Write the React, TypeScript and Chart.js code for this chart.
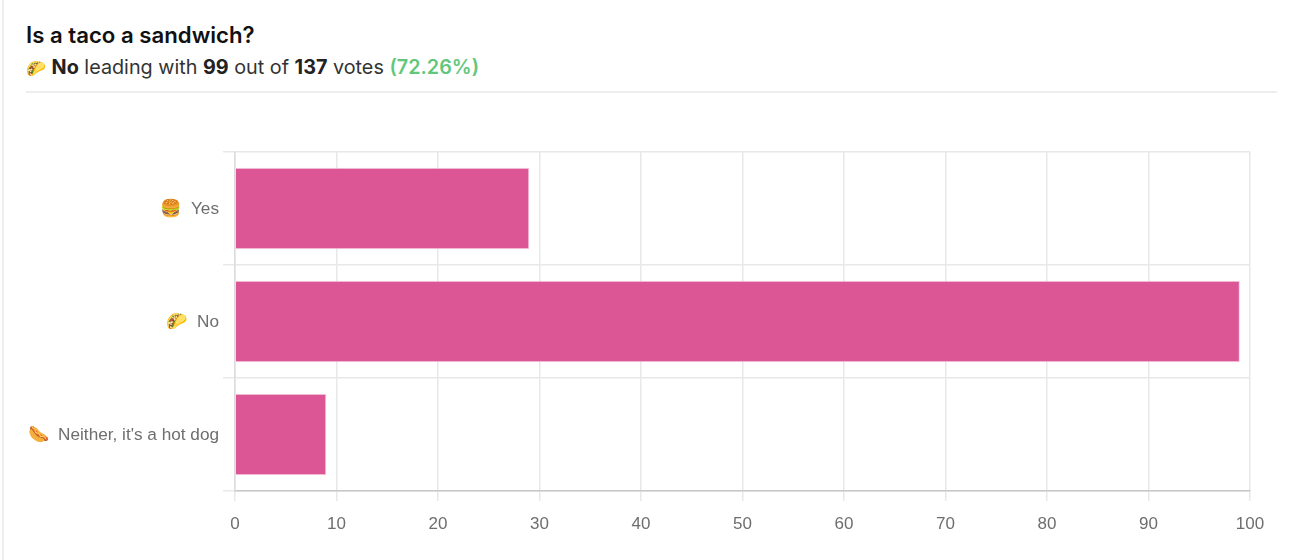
import React, { useEffect, useRef } from "react";
import { Chart, registerables } from "chart.js";

Chart.register(...registerables);

const categories = ["🍔  Yes", "🌮  No", "🌭  Neither, it's a hot dog"];
const votes = [29, 99, 9];
const xTicks = [0, 10, 20, 30, 40, 50, 60, 70, 80, 90, 100];

const sans = "'Liberation Sans', Arial, sans-serif";

export default function App() {
  const ref = useRef<HTMLCanvasElement>(null);
  useEffect(() => {
    const chart = new Chart(ref.current!, {
      type: "bar",
      data: {
        labels: categories,
        datasets: [
          {
            data: votes,
            backgroundColor: "#dc5695",
            borderColor: "#f3cfe0",
            borderWidth: 1,
          },
        ],
      },
      options: {
        indexAxis: "y",
        responsive: false,
        animation: false,
        layout: { padding: { top: 152, right: 42, bottom: 0, left: 0 } },
        plugins: { legend: { display: false }, tooltip: { enabled: false } },
        scales: {
          x: {
            min: 0,
            max: 100,
            afterBuildTicks: (a: any) => {
              a.ticks = xTicks.map((value) => ({ value }));
            },
            afterFit: (a: any) => {
              a.height = 69;
            },
            grid: { color: "#e8e8e8", lineWidth: 1.5, tickLength: 10 },
            border: { color: "#c8c8c8", width: 1.5 },
            ticks: {
              color: "#6e6e6e",
              maxRotation: 0,
              padding: 13,
              font: { family: sans, size: 17 },
            },
          },
          y: {
            afterFit: (a: any) => {
              a.width = 235;
            },
            grid: { color: "#e8e8e8", lineWidth: 1.5, tickLength: 12 },
            border: { color: "#dcdcdc", width: 1.5 },
            ticks: {
              color: "#6e6e6e",
              padding: 4,
              labelOffset: 1,
              font: { family: sans, size: 17.2 },
            },
          },
        },
      },
    });
    return () => chart.destroy();
  }, []);

  return (
    <div style={{ position: "fixed", left: 0, top: 0, width: 1292, height: 560, background: "#fff", overflow: "hidden" }}>
      <div style={{ position: "absolute", left: 2, top: 0, width: 2, height: 560, background: "#eeeeee" }} />
      <div style={{ position: "absolute", left: 26, top: 21, font: "600 22.2px Inter, sans-serif", color: "#111", whiteSpace: "nowrap", lineHeight: "28px" }}>
        Is a taco a sandwich?
      </div>
      <div style={{ position: "absolute", left: 26, top: 53, font: "400 19.8px Inter, sans-serif", color: "#333", whiteSpace: "nowrap", lineHeight: "28px" }}>
        <span style={{ fontSize: 16 }}>🌮</span> <b style={{ fontWeight: 700, color: "#222" }}>No</b> leading with <b style={{ fontWeight: 700, color: "#222" }}>99</b> out of{" "}
        <b style={{ fontWeight: 700, color: "#222" }}>137</b> votes <b style={{ fontWeight: 600, color: "#62c77b" }}>(72.26%)</b>
      </div>
      <div style={{ position: "absolute", left: 26, top: 91, width: 1251, height: 2, background: "#eeeeee" }} />
      <canvas ref={ref} width={1292} height={560} style={{ position: "absolute", left: 0, top: 0, display: "block" }} />
    </div>
  );
}
